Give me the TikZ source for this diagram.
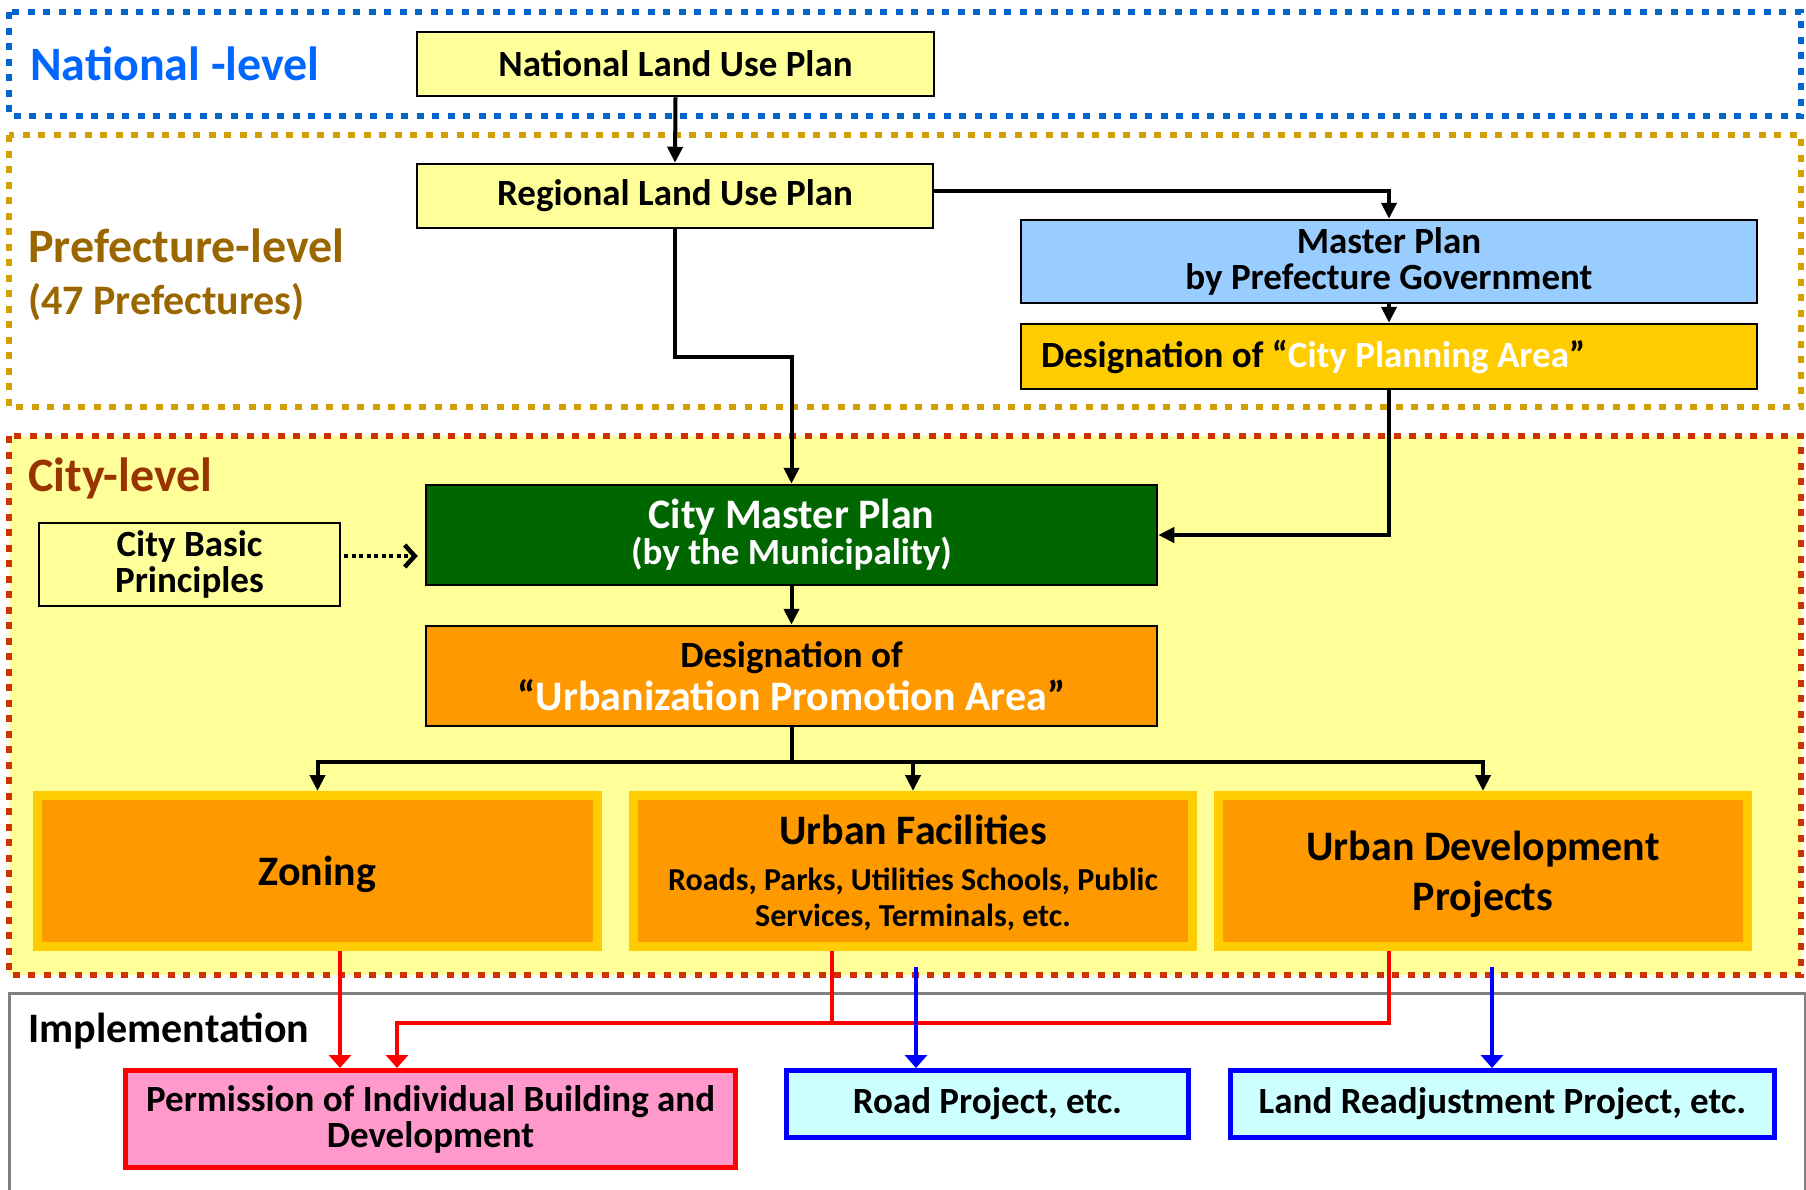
\documentclass[tikz,border=0pt]{standalone}
\usepackage{fontspec}
\setmainfont{Carlito}
\usetikzlibrary{arrows.meta}
\definecolor{lyel}{HTML}{FFFF99}
\definecolor{natborder}{HTML}{0066CC}
\definecolor{nattext}{HTML}{0066FF}
\definecolor{prefborder}{HTML}{D4A000}
\definecolor{preftext}{HTML}{996600}
\definecolor{cityborder}{HTML}{CC3300}
\definecolor{citytext}{HTML}{993300}
\definecolor{mpblue}{HTML}{99CCFF}
\definecolor{gold}{HTML}{FFCC00}
\definecolor{orng}{HTML}{FF9900}
\definecolor{dgreen}{HTML}{006600}
\definecolor{pink}{HTML}{FF99CC}
\definecolor{cyanl}{HTML}{CCFFFF}
\definecolor{implgray}{HTML}{808080}
\tikzset{
  lev/.style={line width=6.5pt, dash pattern=on 7pt off 8.5pt},
  lvl/.style={inner sep=0pt, font=\bfseries\fontsize{48}{50}\selectfont},
  box/.style={draw=black, line width=2.5pt, align=center, inner sep=0pt,
    font=\bfseries\fontsize{37}{36}\selectfont},
  obox/.style={draw=gold, fill=orng, line width=9pt, align=center, inner sep=0pt,
    minimum height=151, text depth=0pt, font=\bfseries\fontsize{42}{50}\selectfont},
  rbox/.style={draw=red, fill=pink, line width=5pt, align=center, inner sep=0pt,
    font=\bfseries\fontsize{37}{36}\selectfont},
  bbox/.style={draw=blue, fill=cyanl, line width=5pt, align=center, inner sep=0pt,
    font=\bfseries\fontsize{37}{36}\selectfont},
  arr/.style={line width=4pt, -{Triangle[length=16pt,width=15pt]}},
  line/.style={line width=4pt},
  redarr/.style={draw=red, line width=4pt, -{Triangle[length=13pt,width=22pt]}},
  redline/.style={draw=red, line width=4pt},
  bluearr/.style={draw=blue, line width=4pt, -{Triangle[length=13pt,width=22pt]}},
  dotarr/.style={line width=4.5pt, dash pattern=on 4pt off 3.5pt,
    -{Straight Barb[length=10pt,width=22pt,line width=4.5pt]}},
}
\begin{document}
\begin{tikzpicture}[x=1pt,y=-1pt]
\useasboundingbox[fill=white] (0,0) rectangle (1806,1189);
% level frames
\draw[lev, draw=natborder] (9,12) rectangle (1801,116);
\draw[lev, draw=prefborder] (9,135) rectangle (1801,407);
\draw[lev, draw=cityborder, fill=lyel] (9,436) rectangle (1801,975);
\draw[draw=implgray, line width=3pt] (9,1200) -- (9,993) -- (1805,993) -- (1805,1200);
% level labels
\node[lvl, text=nattext, anchor=base west] (natlbl) at (30,80) {National -level};
\node[lvl, text=preftext, anchor=base west] (preflbl) at (28,262) {Prefecture-level};
\node[lvl, text=preftext, anchor=base west, font=\bfseries\fontsize{42}{46}\selectfont] (preflbl2) at (28,314) {(47 Prefectures)};
\node[lvl, text=citytext, anchor=base west] (citylbl) at (28,491) {City-level};
\node[lvl, text=black, anchor=base west, font=\bfseries\fontsize{42}{46}\selectfont] (impllbl) at (28,1042) {Implementation};
% boxes
\node[box, fill=lyel, minimum width=517, minimum height=64] (nat) at (675.5,64) {National Land Use Plan};
\node[box, fill=lyel, minimum width=516, minimum height=64] (reg) at (675,196) {Regional Land Use Plan};
\node[box, fill=mpblue, minimum width=736, minimum height=83] (mp) at (1389,261.5) {Master Plan\\by Prefecture Government};
\node[box, fill=gold, minimum width=736, minimum height=65, text width=696, inner xsep=20, align=flush left] (cpa) at (1389,356.5) {Designation of “\textcolor{white}{City Planning Area}”};
\node[box, fill=lyel, line width=2pt, minimum width=301, minimum height=83] (cbp) at (189.5,564.5) {City Basic\\Principles};
\node[box, fill=dgreen, text=white, minimum width=731, minimum height=100] (cmp) at (791.5,535) {{\fontsize{42}{39}\selectfont City Master Plan}\\{\fontsize{37}{39}\selectfont (by the Municipality)}};
\node[box, fill=orng, minimum width=731, minimum height=100, font=\bfseries\fontsize{37}{43}\selectfont] (upa) at (791.5,676) {Designation of\\{\fontsize{42}{43}\selectfont “\textcolor{white}{Urbanization Promotion Area}”}};
\node[obox, minimum width=560] (zon) at (317.5,871) {Zoning};
\node[obox, minimum width=559, font=\bfseries\fontsize{32}{36}\selectfont] (uf) at (913,871) {{\fontsize{42}{46}\selectfont Urban Facilities}\\[10pt]Roads, Parks, Utilities Schools, Public\\Services, Terminals, etc.};
\node[obox, minimum width=529] (udp) at (1483,871) {Urban Development\\Projects};
\node[rbox, minimum width=610, minimum height=97] (perm) at (430.5,1119) {Permission of Individual Building and\\Development};
\node[bbox, minimum width=402, minimum height=67] (road) at (987.5,1104) {Road Project, etc.};
\node[bbox, minimum width=544, minimum height=67] (lr) at (1502.5,1104) {Land Readjustment Project, etc.};
% connectors
\draw[arr] (nat.south) -- (reg.north);
\draw[arr] ([yshift=5pt]reg.east) -| (mp.north);
\draw[arr] (reg.south) -- ++(0,128) -| (cmp.north);
\draw[arr] (mp.south) -- (cpa.north);
\draw[arr] (cpa.south) |- (cmp.east);
\draw[dotarr, shorten <=3pt, shorten >=7pt] ([yshift=8.5pt]cbp.east) -- ([yshift=8.5pt]cbp.east -| cmp.west);
\draw[arr] (cmp.south) -- (upa.north);
\draw[line] (upa.south) -- ++(0,35) coordinate (br);
\draw[arr] (br) -| (zon.north);
\draw[arr] (br) -| (udp.north);
\draw[arr] (uf.north |- br) -- (uf.north);
% implementation connectors
\coordinate (rj) at (832,1023);
\draw[redarr] ([xshift=22.5pt]zon.south) -- ([xshift=22.5pt]zon.south |- perm.north);
\draw[redarr] ([xshift=-81pt]uf.south) -- (rj) -| ([xshift=-33.5pt]perm.north);
\draw[redline] ([xshift=-94pt]udp.south) |- (rj);
\coordinate (b1) at (916,967);
\coordinate (b2) at (1492,967);
\draw[bluearr] (b1) -- (b1 |- road.north);
\draw[bluearr] (b2) -- (b2 |- lr.north);
\end{tikzpicture}
\end{document}
